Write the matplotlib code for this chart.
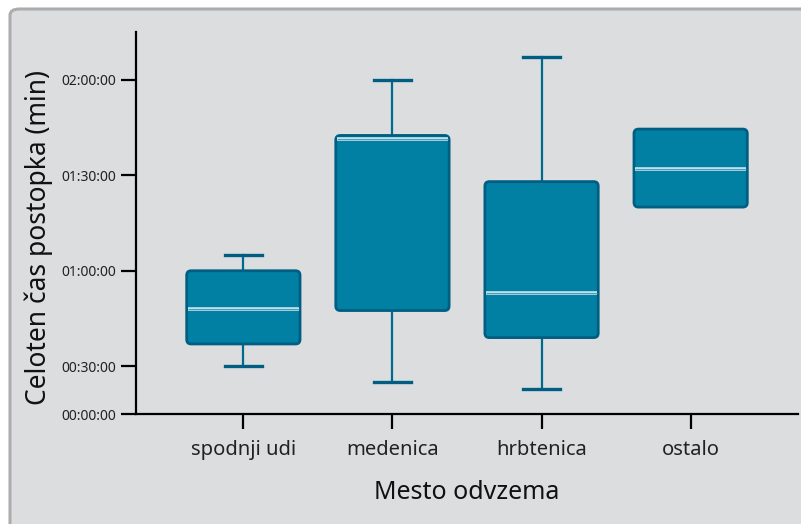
import matplotlib.pyplot as plt
from matplotlib.patches import FancyBboxPatch

# trajanje postopka po mestu odvzema (minute)
kategorije = ['spodnji udi', 'medenica', 'hrbtenica', 'ostalo']
spodaj = [30, 25, 23, 80]       # spodnji brk
q1 = [37, 47.5, 39, 80]
mediana = [48, 101.5, 53, 92]
q3 = [60, 102.5, 88, 104.5]
zgoraj = [65, 120, 127, 104.5]  # zgornji brk

y_ticks = [15, 30, 60, 90, 120]
y_tick_labels = ['00:00:00', '00:30:00', '01:00:00', '01:30:00', '02:00:00']

polnilo = '#0180a4'
rob = '#005e83'
brk = '#006a8e'

plt.rcParams['font.family'] = ['Noto Sans', 'DejaVu Sans']

fig = plt.figure(figsize=(8.01, 5.24), dpi=100)
fig.patch.set_facecolor('white')

# sivo ozadje z zaobljenim robom
ozadje = FancyBboxPatch((10 / 801, -0.05), 1.0, 1.05 - 9 / 524,
                        boxstyle='round,pad=0,rounding_size=0.012',
                        transform=fig.transFigure, facecolor='#dcdddf',
                        edgecolor='#acacac', linewidth=2.2, zorder=-10)
fig.patches.append(ozadje)

ax = fig.add_axes([136 / 801, 110 / 524, 662 / 801, 382 / 524])
ax.set_facecolor('none')

poz = list(range(1, len(kategorije) + 1))
stats = []
for i, k in enumerate(kategorije):
    stats.append({'label': k, 'whislo': spodaj[i], 'q1': q1[i], 'med': mediana[i],
                  'q3': q3[i], 'whishi': zgoraj[i], 'fliers': []})

sirina = 0.76
bp = ax.bxp(stats, positions=poz, widths=sirina, patch_artist=True, showfliers=False,
            whiskerprops=dict(color=brk, linewidth=1.6),
            capprops=dict(color=rob, linewidth=2.4),
            capwidths=0.25,
            medianprops=dict(visible=False))
for b in bp['boxes']:
    b.set_visible(False)
# brez brkov, kjer se ujemajo z robom skatle
for i in range(len(kategorije)):
    if spodaj[i] == q1[i]:
        bp['caps'][2 * i].set_visible(False)
        bp['whiskers'][2 * i].set_visible(False)
    if zgoraj[i] == q3[i]:
        bp['caps'][2 * i + 1].set_visible(False)
        bp['whiskers'][2 * i + 1].set_visible(False)

# zaobljeni pravokotniki za skatle
for i, p in enumerate(poz):
    skatla = FancyBboxPatch((p - sirina / 2, q1[i]), sirina, q3[i] - q1[i],
                            boxstyle='round,pad=0,rounding_size=0.03',
                            mutation_aspect=47, facecolor=polnilo, edgecolor=rob,
                            linewidth=2.0, zorder=3)
    ax.add_patch(skatla)
    ax.plot([p - sirina / 2 + 0.01, p + sirina / 2 - 0.01], [mediana[i], mediana[i]],
            color='#c9e3ec', linewidth=2.6, zorder=4, solid_capstyle='butt')
    ax.plot([p - sirina / 2 + 0.01, p + sirina / 2 - 0.01], [mediana[i], mediana[i]],
            color='#4f9db8', linewidth=0.8, zorder=5, solid_capstyle='butt')

ax.set_xlim(0.28, 4.72)
ax.set_ylim(15, 135)
ax.set_yticks(y_ticks)
ax.set_yticklabels(y_tick_labels, fontsize=10)
ax.set_xticks(poz)
ax.set_xticklabels(kategorije, fontsize=14.5)

for s in ['top', 'right']:
    ax.spines[s].set_visible(False)
for s in ['left', 'bottom']:
    ax.spines[s].set_linewidth(1.6)
    ax.spines[s].set_color('black')
ax.tick_params(axis='both', length=11, width=1.6, color='black', labelcolor='#222222')
ax.tick_params(axis='x', pad=8)
ax.tick_params(axis='y', pad=3)

ax.set_xlabel('Mesto odvzema', fontsize=18, labelpad=14, color='#111111')
ax.set_ylabel('Celoten čas postopka (min)', fontsize=19, color='#111111')
ax.yaxis.set_label_coords(-0.125, 0.462)

fig.savefig('out.png', dpi=100)
